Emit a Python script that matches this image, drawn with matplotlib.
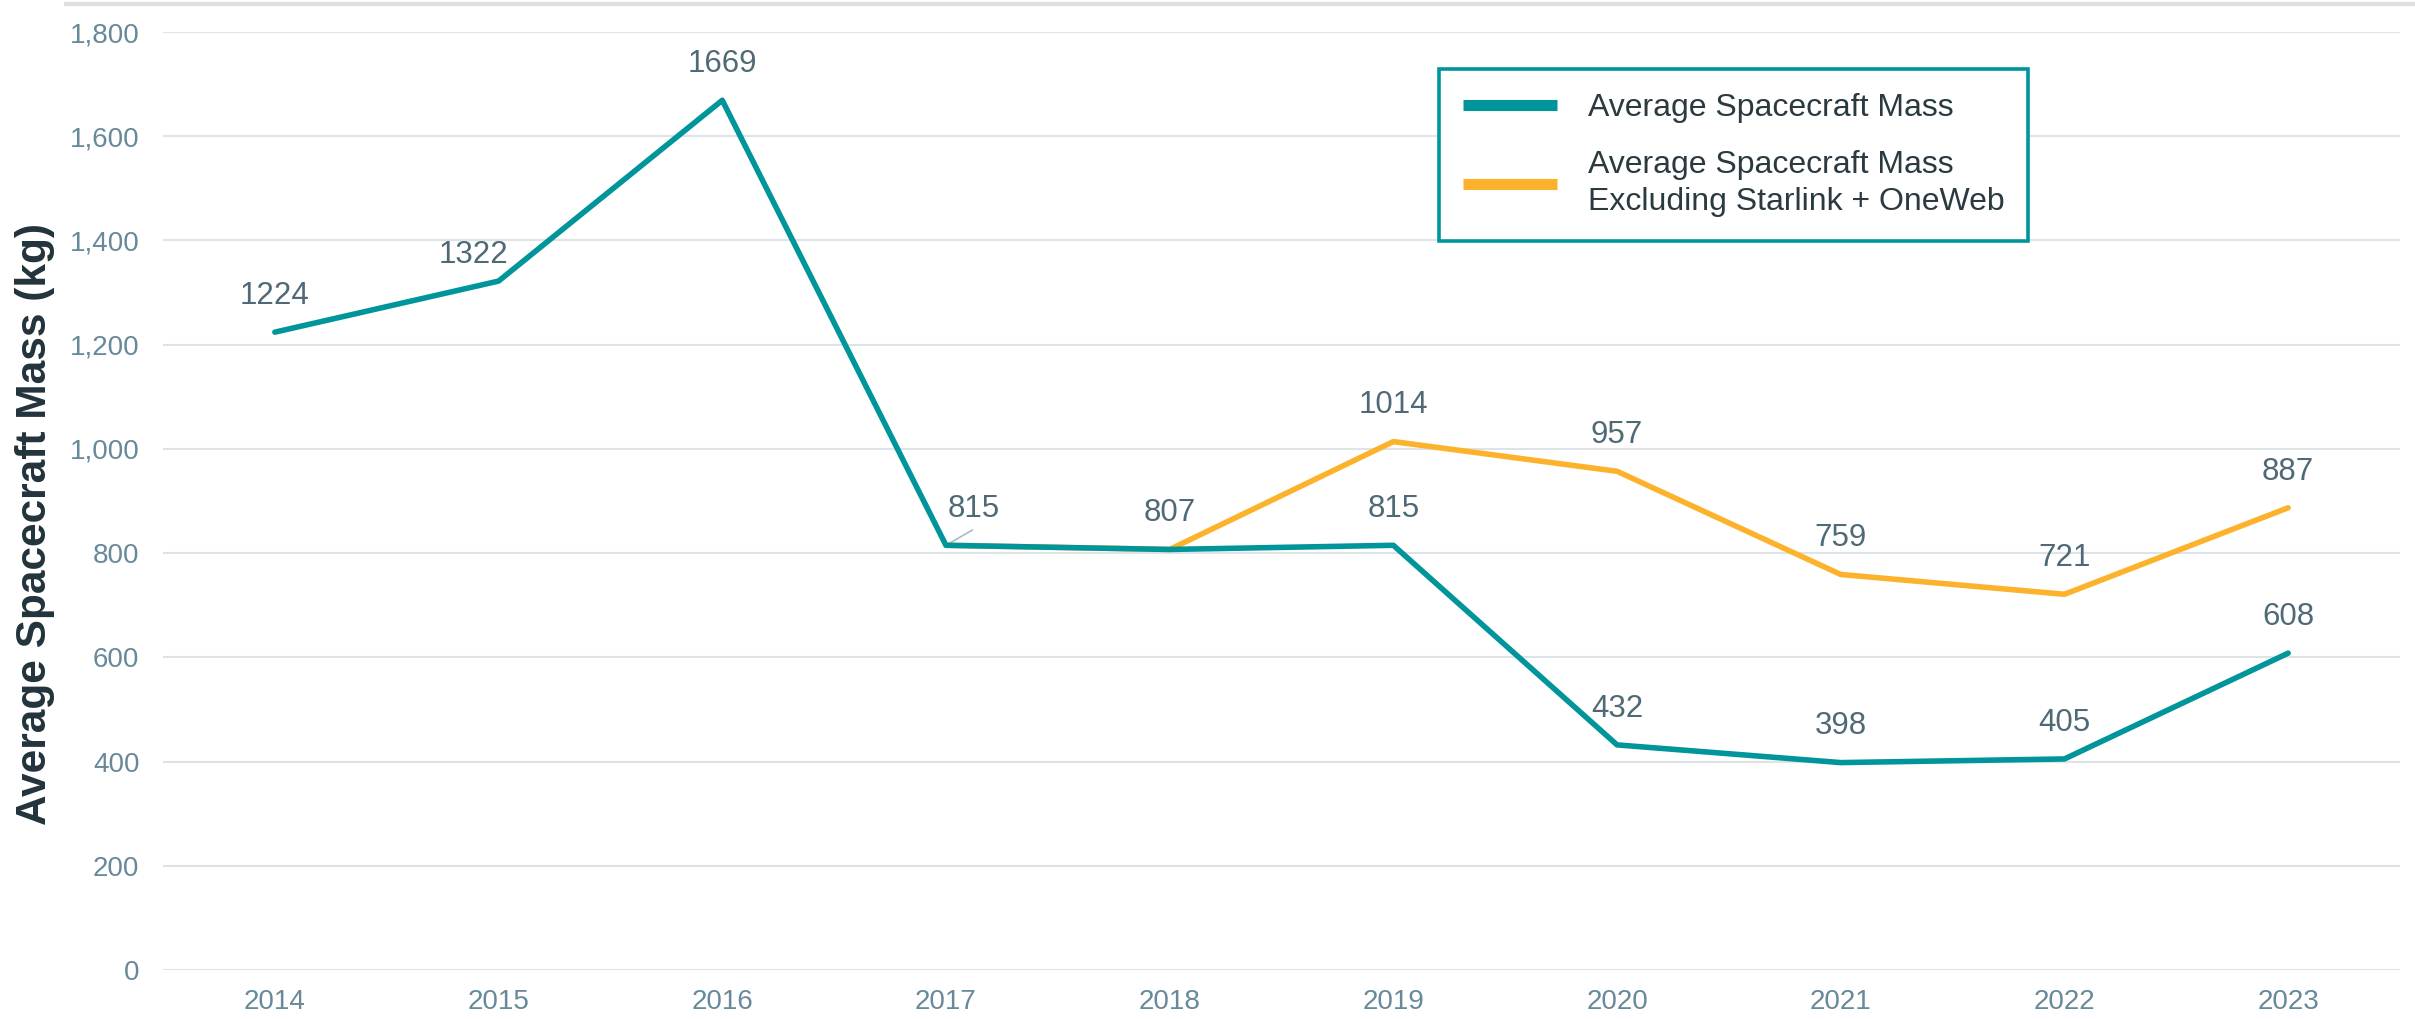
import numpy as np
import matplotlib
matplotlib.use("Agg")
import matplotlib.pyplot as plt
from matplotlib.lines import Line2D

plt.rcParams['font.family'] = ['Liberation Sans', 'DejaVu Sans']

years = [2014, 2015, 2016, 2017, 2018, 2019, 2020, 2021, 2022, 2023]
avg_mass = [1224, 1322, 1669, 815, 807, 815, 432, 398, 405, 608]
# excluding Starlink + OneWeb, starts in 2017 (same as total until 2018)
excl_years = [2017, 2018, 2019, 2020, 2021, 2022, 2023]
excl_mass = [815, 807, 1014, 957, 759, 721, 887]

teal = '#00959B'
orange = '#FDB22B'
lbl_col = '#4F6A76'
tick_col = '#68899A'
grid_col = '#DDE4E7'

W, H = 2415, 1019
fig = plt.figure(figsize=(W / 100, H / 100), dpi=100)
ax = fig.add_axes([163 / W, 1 - 970 / H, (2400 - 163) / W, (970 - 32) / H])

x_all = np.arange(len(years))
x_excl = np.array([years.index(y) for y in excl_years])

l_ex, = ax.plot(x_excl, excl_mass, color=orange, lw=4, solid_capstyle='round',
                solid_joinstyle='round', zorder=3)
l_avg, = ax.plot(x_all, avg_mass, color=teal, lw=4, solid_capstyle='round',
                 solid_joinstyle='round', zorder=4)

ax.set_xlim(-0.5, len(years) - 0.5)
ax.set_ylim(0, 1800)
ax.set_yticks(np.arange(0, 1801, 200))
ax.yaxis.set_major_formatter(matplotlib.ticker.FuncFormatter(lambda v, p: f'{int(v):,}'))
ax.set_xticks(x_all)
ax.set_xticklabels([str(y) for y in years])
ax.tick_params(length=0, labelsize=20, colors=tick_col)
ax.tick_params(axis='y', pad=17)
ax.tick_params(axis='x', pad=14)
ax.grid(axis='y', color=grid_col, lw=1.5)
ax.set_axisbelow(True)
for s in ax.spines.values():
    s.set_visible(False)

# data labels
lbl_kw = dict(textcoords='offset points', ha='center', va='center', fontsize=22.5, color=lbl_col, zorder=5)
for i, v in enumerate(avg_mass):
    if years[i] == 2015:
        ax.annotate(str(v), (i, v), xytext=(-18, 19), **lbl_kw)
    elif years[i] == 2017:
        ax.annotate(str(v), (i, v), xytext=(20, 26), **lbl_kw)
        ax.annotate('', (i, v), xytext=(19, 11), textcoords='offset points',
                    arrowprops=dict(arrowstyle='-', color='#A9BCC4', lw=1.2, shrinkA=0, shrinkB=0))
    else:
        ax.annotate(str(v), (i, v), xytext=(0, 26), **lbl_kw)
for i, v in zip(x_excl, excl_mass):
    if years[i] in (2017, 2018):
        continue
    ax.annotate(str(v), (i, v), xytext=(0, 26), **lbl_kw)

leg = ax.legend([l_avg, l_ex],
                ['Average Spacecraft Mass', 'Average Spacecraft Mass\nExcluding Starlink + OneWeb'],
                loc='upper left', bbox_to_anchor=(1439 / W, 1 - 69 / H), bbox_transform=fig.transFigure,
                borderaxespad=0, fontsize=23, handlelength=2.95, handletextpad=0.95,
                borderpad=0.75, labelspacing=0.85, frameon=True, fancybox=False,
                edgecolor=teal, framealpha=1, labelcolor='#2B3A40')
leg.get_frame().set_linewidth(2.6)
for ln in leg.get_lines():
    ln.set_linewidth(8)
    ln.set_solid_capstyle('butt')
for t in leg.get_texts():
    t.set_linespacing(1.3)

fig.text(35 / W, 1 - 524 / H, 'Average Spacecraft Mass (kg)', rotation=90, ha='center', va='center',
         fontsize=30.5, fontweight='bold', color='#22333B')

# light bar across the top
fig.add_artist(Line2D([66 / W, 1], [1 - 4 / H, 1 - 4 / H], color='#DCE0E2', lw=3, transform=fig.transFigure))

fig.savefig('out.png', dpi=100)
